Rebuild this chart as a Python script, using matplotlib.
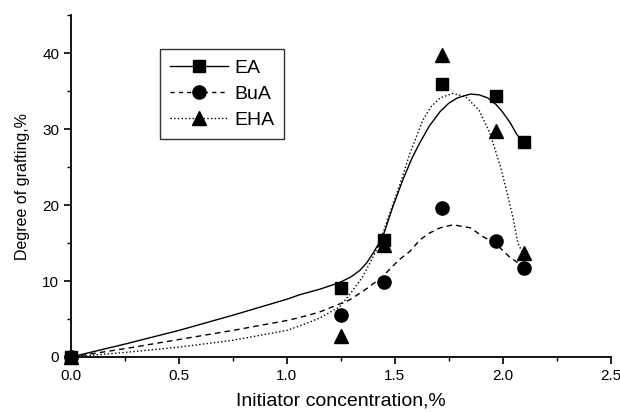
import matplotlib.pyplot as plt
from matplotlib.ticker import MultipleLocator

# measured points
conc = [0.0, 1.25, 1.45, 1.72, 1.97, 2.10]
ea = [0.0, 9.1, 15.4, 35.9, 34.4, 28.3]
bua = [0.0, 5.5, 9.9, 19.6, 15.3, 11.7]
eha = [0.0, 2.7, 14.8, 39.7, 29.7, 13.7]

# fitted curves
ea_fit_x = [0.0, 0.25, 0.5, 0.75, 1.0, 1.06, 1.15, 1.245, 1.30, 1.338, 1.37, 1.40, 1.444, 1.49, 1.537, 1.58, 1.616, 1.66, 1.71, 1.75, 1.79, 1.85, 1.89, 1.93, 1.97, 2.0, 2.035, 2.065, 2.10]
ea_fit_y = [0.0, 1.7, 3.5, 5.5, 7.6, 8.2, 8.9, 9.8, 10.6, 11.4, 12.4, 13.7, 15.8, 19.7, 23.3, 26.2, 28.2, 30.4, 32.3, 33.4, 34.1, 34.6, 34.5, 34.1, 33.2, 32.2, 30.8, 29.3, 28.0]
bua_fit_x = [0.0, 0.25, 0.5, 0.75, 1.0, 1.06, 1.15, 1.29, 1.36, 1.44, 1.52, 1.57, 1.616, 1.66, 1.71, 1.77, 1.85, 1.91, 1.96, 2.03, 2.07, 2.10]
bua_fit_y = [0.0, 1.1, 2.3, 3.5, 4.8, 5.2, 5.9, 7.5, 8.8, 10.5, 12.8, 13.9, 15.4, 16.3, 17.0, 17.4, 17.0, 15.8, 15.1, 13.2, 12.4, 11.9]
eha_fit_x = [0.0, 0.25, 0.5, 0.75, 1.0, 1.06, 1.15, 1.245, 1.29, 1.35, 1.40, 1.43, 1.47, 1.52, 1.57, 1.63, 1.67, 1.71, 1.77, 1.83, 1.89, 1.94, 1.99, 2.02, 2.05, 2.07, 2.10]
eha_fit_y = [0.0, 0.6, 1.3, 2.2, 3.5, 4.1, 5.1, 6.6, 8.2, 10.5, 13.2, 15.0, 18.4, 22.4, 26.8, 31.2, 33.0, 34.1, 34.7, 34.2, 32.5, 29.5, 25.0, 21.6, 18.0, 15.0, 13.2]

plt.rcParams["font.family"] = ["Liberation Sans", "DejaVu Sans"]

fig = plt.figure(figsize=(6.2, 4.12), dpi=100)
ax = fig.add_axes([0.1145, 0.1335, 0.8705, 0.83])

# fitted curves
ax.plot(ea_fit_x, ea_fit_y, "-", color="black", lw=1.0)
ax.plot(bua_fit_x, bua_fit_y, "--", color="black", lw=1.0, dashes=(4, 3))
ax.plot(eha_fit_x, eha_fit_y, ":", color="black", lw=1.0)

# data points
ax.plot(conc, ea, "s", color="black", ms=8, clip_on=False, zorder=5)
ax.plot(conc, bua, "o", color="black", ms=9.5, clip_on=False, zorder=5)
ax.plot(conc, eha, "^", color="black", ms=9.5, clip_on=False, zorder=5)

# legend proxies
h_ea, = ax.plot([], [], "-s", color="black", lw=1.0, ms=8)
h_bua, = ax.plot([], [], "--o", color="black", lw=1.0, ms=9.5, dashes=(3, 3))
h_eha, = ax.plot([], [], ":^", color="black", lw=1.0, ms=9.5)
leg = ax.legend([h_ea, h_bua, h_eha], ["EA", "BuA", "EHA"],
                loc="upper left", bbox_to_anchor=(0.165, 0.90),
                fontsize=14, frameon=True, fancybox=False,
                handlelength=3.0, handletextpad=0.3, labelspacing=0.45,
                borderpad=0.5, borderaxespad=0)
leg.get_frame().set_edgecolor("black")
leg.get_frame().set_linewidth(1.0)

ax.set_xlim(0, 2.5)
ax.set_ylim(0, 45)
ax.xaxis.set_major_locator(MultipleLocator(0.5))
ax.xaxis.set_minor_locator(MultipleLocator(0.25))
ax.yaxis.set_minor_locator(MultipleLocator(5))
ax.set_yticks([0, 10, 20, 30, 40])

ax.spines["top"].set_visible(False)
ax.spines["right"].set_visible(False)
for s in ["left", "bottom"]:
    ax.spines[s].set_linewidth(1.3)
ax.tick_params(which="major", direction="out", length=5, width=1.2, labelsize=11)
ax.tick_params(which="minor", direction="out", length=3, width=1.0)

ax.set_xlabel("Initiator concentration,%", fontsize=14, labelpad=7)
ax.set_ylabel("Degree of grafting,%", fontsize=11.5, labelpad=9)

fig.savefig("out.png", dpi=100)
